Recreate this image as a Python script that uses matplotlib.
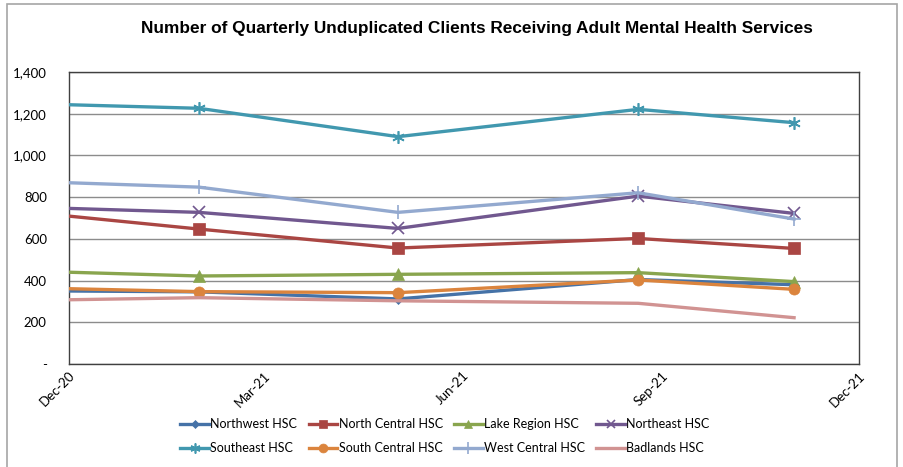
import numpy as np
import pandas as pd
import matplotlib
matplotlib.use("Agg")
import matplotlib.pyplot as plt
import matplotlib.dates as mdates
from matplotlib.patches import Rectangle
from matplotlib.ticker import FuncFormatter

# quarterly data points (first one sits on the left axis edge)
dates = pd.to_datetime(["2020-12-01", "2021-01-30", "2021-05-02", "2021-08-21", "2021-11-01"])

northwest = [350, 346, 312, 405, 380]
north_central = [709, 647, 556, 602, 554]
lake_region = [440, 422, 430, 438, 395]
northeast = [746, 727, 650, 805, 722]
southeast = [1243, 1226, 1090, 1221, 1157]
south_central = [361, 347, 342, 403, 358]
west_central = [869, 848, 727, 821, 695]
badlands = [308, 318, 303, 291, 222]

names = ["Northwest HSC", "North Central HSC", "Lake Region HSC", "Northeast HSC",
         "Southeast HSC", "South Central HSC", "West Central HSC", "Badlands HSC"]
series = [northwest, north_central, lake_region, northeast,
          southeast, south_central, west_central, badlands]
colors = ["#4572A7", "#AA4643", "#89A54E", "#71588F",
          "#4198AF", "#DB843D", "#93A9CF", "#D19392"]
markers = ["D", "s", "^", "x", (6, 2, 0), "o", "+", None]
msizes = [5, 8, 8, 8, 9, 8, 10, 0]

fig = plt.figure(figsize=(9.04, 4.67), dpi=100)
ax = fig.add_axes([69/904, 1-364/467, (859-69)/904, (364-72)/467])

# chart area border
fig.patches.append(Rectangle((7/904, -0.02), (897-7)/904, 1.02-4/467,
                             transform=fig.transFigure, fill=False,
                             edgecolor="#a6a6a6", linewidth=1.2))

handles = []
for vals, name, c, m, ms in zip(series, names, colors, markers, msizes):
    h, = ax.plot(dates, vals, color=c, linewidth=2.4, marker=m, markersize=ms,
                 markeredgewidth=1.2 if m in ("x", "+", (6, 2, 0)) else 0.5,
                 markevery=[1, 2, 3, 4], label=name, zorder=3, clip_on=True)
    handles.append(h)

ax.set_xlim(pd.Timestamp("2020-12-01"), pd.Timestamp("2021-12-01"))
ax.set_ylim(0, 1400)
ax.set_yticks(np.arange(0, 1401, 200))
ax.yaxis.set_major_formatter(FuncFormatter(lambda v, p: "-" if v == 0 else f"{int(v):,}"))
ax.set_xticks(pd.to_datetime(["2020-12-01", "2021-03-01", "2021-06-01", "2021-09-01", "2021-12-01"]))
ax.xaxis.set_major_formatter(mdates.DateFormatter("%b-%y"))

ax.grid(axis="y", color="#8c8c8c", linewidth=1)
ax.set_axisbelow(True)
for s in ax.spines.values():
    s.set_color("#404040")
    s.set_linewidth(1)
ax.tick_params(axis="both", length=0, labelsize=9.5, labelcolor="#000000")
ax.tick_params(axis="y", pad=16)
ax.tick_params(axis="x", pad=4)
for lab in ax.get_xticklabels():
    lab.set_rotation(45)
    lab.set_ha("right")
    lab.set_rotation_mode("anchor")
    lab.set_fontfamily("Lato")
for lab in ax.get_yticklabels():
    lab.set_fontfamily("Lato")

fig.text(477/904, 1-28/467, "Number of Quarterly Unduplicated Clients Receiving Adult Mental Health Services",
         ha="center", va="center", fontsize=12.4, fontweight="bold", family="Liberation Sans")

# legend filled column-major, reorder so rows read like the reference
order = [0, 4, 1, 5, 2, 6, 3, 7]
leg = fig.legend([handles[i] for i in order], [names[i] for i in order],
                 ncol=4, loc="center", bbox_to_anchor=(445/904, 1-436/467),
                 frameon=False, handlelength=2.3, handletextpad=0.1,
                 columnspacing=0.9, labelspacing=0.95, markerscale=0.8,
                 prop={"family": "Lato", "size": 9})

fig.savefig("out.png", dpi=100)
